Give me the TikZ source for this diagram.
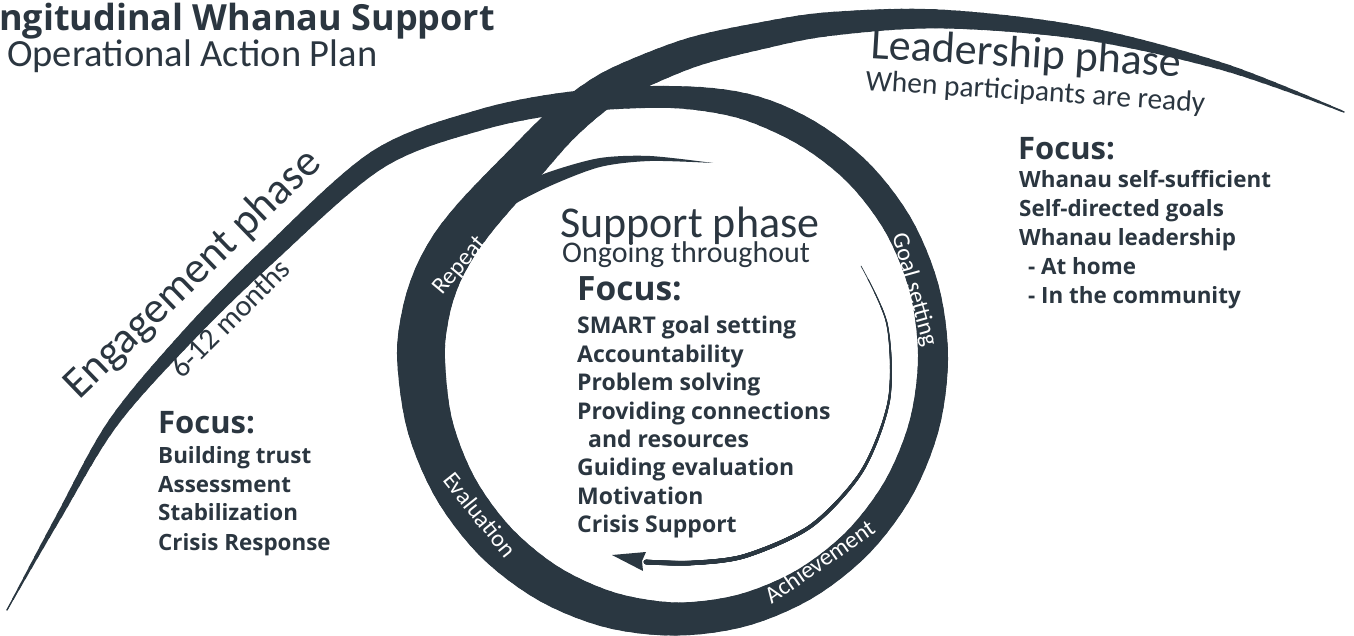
\documentclass[tikz,border=0pt]{standalone}
\usepackage{fontspec}
\setmainfont{Open Sans}
\newfontfamily\lightfont{Carlito}
\newfontfamily\handfont{Carlito}
\definecolor{ink}{HTML}{2A3741}
\definecolor{txt}{HTML}{2B3640}
\newcommand{\bandfont}{\lightfont\fontsize{24}{28}\selectfont}
\newcommand{\mainpath}{plot[smooth,tension=0.55] coordinates {(7,610) (58,518) (113,423) (187,337) (267,257) (377,160) (480,120) (573,102) (670,97)
  (743.3,106) (805,132) (858,172.5) (898.7,226) (924.3,289.2) (933,357) (924.3,424.8) (898.7,488) (858,542.3) (805,583.9) (743.3,610.1)
  (677,619) (610.7,610.1) (549,583.9) (496,542.3) (455.3,488) (429.7,424.8) (421,357)
  (426,312) (437,277) (453,247) (473,220) (496,194) (526,162) (558,128) (590,101) (622,81) (690,53) (760,36) (830,24) (941,19) (1083,33) (1224,67) (1344,112)}}
\newcommand{\thinpath}{plot[smooth] coordinates {(861,266) (887,324) (889,400) (862,471) (811,526) (745,556) (691,563) (646,562)}}
\tikzset{
  band/.style={draw=ink, line cap=round},
  lbl/.style={inner sep=0pt, anchor=base west, text=txt},
  focushead/.style={lbl, font=\bfseries\fontsize{31}{36}\selectfont},
  focusitem/.style={lbl, font=\bfseries\fontsize{22.4}{26}\selectfont},
  focusitemc/.style={lbl, font=\bfseries\fontsize{23}{26}\selectfont},
  hand/.style={inner sep=0pt, text=txt},
  bandlabel/.style={inner sep=0pt, text=white, font=\bandfont}
}
\begin{document}
\begin{tikzpicture}[x=1pt,y=-1pt]
\useasboundingbox (0,0) rectangle (1354,636);

% main brush stroke: engagement -> support loop -> repeat -> leadership
\path[band, line width=1pt] \mainpath;
\foreach \sa/\wa/\sb/\wb in {0/1/215/10, 215/10/328/14, 328/14/441/17, 441/17/588/20, 588/20/897/22, 897/22/1000/28, 1000/28/1304/30, 1304/30/1711/33, 1711/33/1915/42, 1915/42/2117/48, 2117/48/2234/46, 2234/46/2353/40, 2353/40/2458/33, 2458/33/2539/30, 2539/30/2612/27, 2612/27/2683/24, 2683/24/2794/19, 2794/19/2937/13.5, 2937/13.5/3082/7.5, 3082/7.5/3225/1} {
  \pgfmathtruncatemacro\nn{ceil((\sb-\sa)/12)}
  \pgfmathsetmacro\segl{(\sb-\sa)/\nn}
  \foreach \j in {1,...,\nn} {
    \pgfmathsetmacro\st{\sa+(\j-1)*\segl}
    \pgfmathsetmacro\wd{\wa+(\wb-\wa)*(\j-0.5)/\nn}
    \pgfmathsetmacro\ph{\segl+12000-\st}
    \path[band, line width=\wd pt, dash pattern=on \segl pt off 12000pt, dash phase=\ph pt] \mainpath;
  }
}
% inner crescent
\fill[ink] plot[smooth] coordinates {(497,205) (505,200) (522,184) (552,171) (600,158) (650,156) (713,163)}
  -- plot[smooth] coordinates {(713,163) (650,161) (600,167) (550,186) (510,207) (483,230) (465,250)} -- cycle;
% inner thin arrow
\foreach \i in {0,...,30} {
  \pgfmathsetmacro\tI{\i/30}
  \pgfmathsetmacro\wI{0.7+4*\tI*(1.5-0.5*\tI)}
  \pgfmathsetmacro\pI{4000-15*\i}
  \path[band, line width=\wI pt, dash pattern=on 2000pt off 2000pt, dash phase=\pI pt] \thinpath;
}
\fill[ink] (612,555) -- (646,552) -- (642,561) -- (643,571) -- cycle;

% band labels
\node[bandlabel,rotate=-74.2] (goal) at (914,290) {Goal setting};
\node[bandlabel,rotate=34.9] (achieve) at (819.5,561.5) {Achievement};
\node[bandlabel,rotate=-51.4] (eval) at (480,514.5) {Evaluation};
\node[bandlabel,rotate=50] (repeat) at (460,266) {Repeat};

% titles
\node[lbl,font=\bfseries\fontsize{36}{42}\selectfont] (title) at (-1,31) {ngitudinal Whanau Support};
\node[lbl,font=\lightfont\fontsize{38.5}{44}\selectfont] (subtitle) at (7,67) {Operational Action Plan};

% phase names
\node[hand,anchor=base west,rotate=-3.5,font=\handfont\fontsize{44}{50}\selectfont] (lead) at (870,58) {Leadership phase};
\node[hand,anchor=base west,rotate=-3.7,font=\handfont\fontsize{29.5}{34}\selectfont] (leadsub) at (865,90) {When participants are ready};
\node[hand,anchor=base west,font=\handfont\fontsize{44}{50}\selectfont] (supp) at (560,238) {Support phase};
\node[hand,anchor=base west,font=\handfont\fontsize{30}{34}\selectfont] (suppsub) at (562,263) {Ongoing throughout};
\node[hand,rotate=44,font=\handfont\fontsize{44}{50}\selectfont] (eng) at (193,275) {Engagement phase};
\node[hand,rotate=45,font=\handfont\fontsize{30}{34}\selectfont] (engsub) at (230,318) {6-12 months};

% leadership focus
\node[focushead] (lf) at (1018,160) {Focus:};
\node[focusitem] (l1) at (1019,188) {Whanau self-sufficient};
\node[focusitem] (l2) at (1019,217) {Self-directed goals};
\node[focusitem] (l3) at (1019,246) {Whanau leadership};
\node[focusitem] (l4) at (1028,275) {- At home};
\node[focusitem] (l5) at (1028,303) {- In the community};

% support focus
\node[focushead,font=\bfseries\fontsize{33.5}{38}\selectfont] (sf) at (577,300) {Focus:};
\node[focusitemc] (s1) at (577,333) {SMART goal setting};
\node[focusitemc] (s2) at (577,362) {Accountability};
\node[focusitemc] (s3) at (577,390) {Problem solving};
\node[focusitemc] (s4) at (577,419) {Providing connections};
\node[focusitemc] (s5) at (588,447) {and resources};
\node[focusitemc] (s6) at (577,475) {Guiding evaluation};
\node[focusitemc] (s7) at (577,504) {Motivation};
\node[focusitemc] (s8) at (577,532) {Crisis Support};

% engagement focus
\node[focushead] (ef) at (158,433) {Focus:};
\node[focusitem] (e1) at (158,463) {Building trust};
\node[focusitem] (e2) at (158,492) {Assessment};
\node[focusitem] (e3) at (158,520) {Stabilization};
\node[focusitem] (e4) at (158,550) {Crisis Response};
\end{tikzpicture}
\end{document}
